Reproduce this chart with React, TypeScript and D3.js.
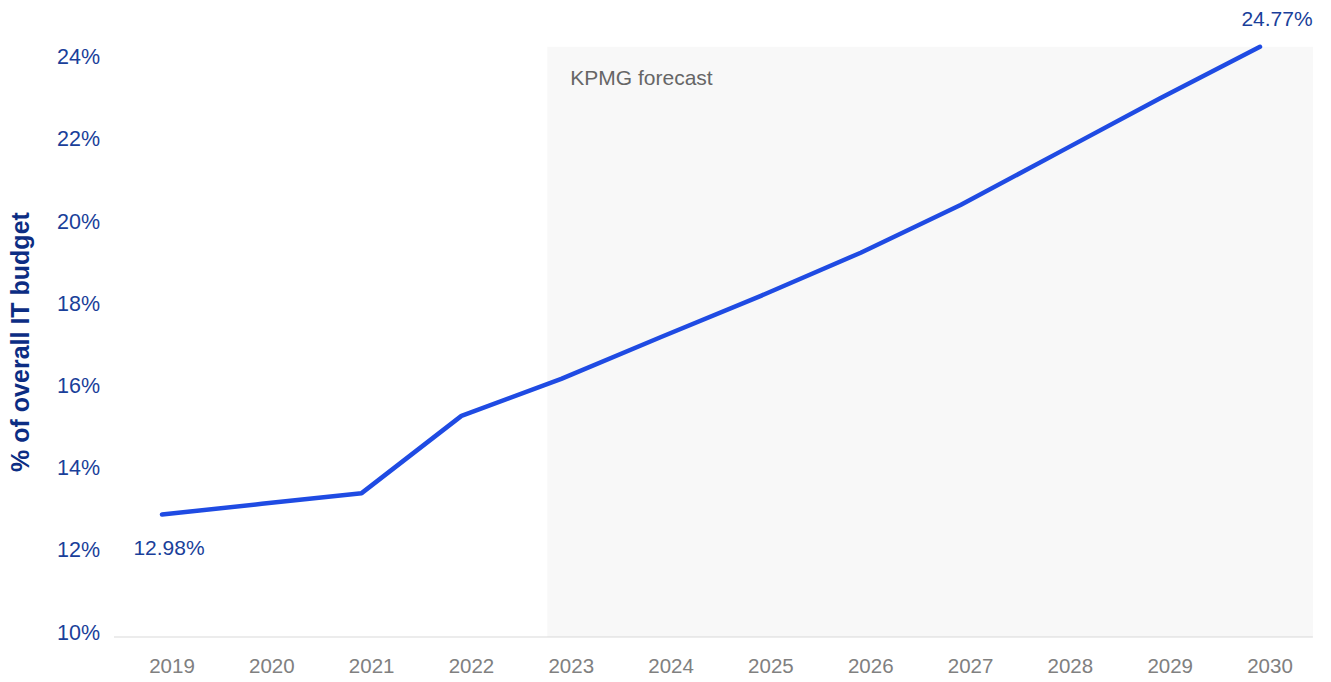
import React from "react";
import * as d3 from "d3";

const years = [2019, 2020, 2021, 2022, 2023, 2024, 2025, 2026, 2027, 2028, 2029, 2030];
const shareOfBudget = [12.98, 13.24, 13.5, 15.38, 16.28, 17.3, 18.3, 19.35, 20.51, 21.81, 23.11, 24.36];
const yTicks = [10, 12, 14, 16, 18, 20, 22, 24];
const firstLabel = "12.98%";
const lastLabel = "24.77%";
const forecastStart = 2023;
const forecastLabel = "KPMG forecast";
const yTitle = "% of overall IT budget";

const W = 1331;
const H = 682;
const FONT = "'Liberation Sans', Arial, sans-serif";

export default function App() {
  const x = d3.scalePoint<number>().domain(years).range([162, 1260]);
  const step = x.step();
  const y = d3.scaleLinear().domain([10, 24]).range([637, 61.6]);
  const line = d3
    .line<number>()
    .x((_, i) => x(years[i]) as number)
    .y((d) => y(d))
    .curve(d3.curveLinear);

  const lastIdx = years.length - 1;
  const rectX0 = (x(forecastStart) as number) - step * 0.14;
  const rectX1 = (x(years[lastIdx]) as number) + step * 0.53;
  const rectY0 = y(shareOfBudget[lastIdx]);
  const axisX0 = 114;

  return (
    <svg
      width={W}
      height={H}
      style={{ position: "absolute", left: 0, top: 0, background: "#fff" }}
      fontFamily={FONT}
    >
      <rect x={rectX0} y={rectY0} width={rectX1 - rectX0} height={y(10) - rectY0} fill="#f8f8f8" />
      <text x={rectX0 + 23} y={rectY0 + 38} fontSize={21} fill="#666666">
        {forecastLabel}
      </text>
      <line x1={axisX0} x2={rectX1} y1={y(10)} y2={y(10)} stroke="#d9d9d9" strokeWidth={1} />
      {yTicks.map((t) => (
        <text key={t} x={100} y={y(t) - 5} dy="0.35em" textAnchor="end" fontSize={21.5} fill="#1a3f9a">
          {t}%
        </text>
      ))}
      {years.map((yr) => (
        <text key={yr} x={(x(yr) as number) + 10} y={673} textAnchor="middle" fontSize={20.5} fill="#808080">
          {yr}
        </text>
      ))}
      <text
        transform={`translate(29, 342) rotate(-90)`}
        textAnchor="middle"
        fontSize={25}
        fontWeight="bold"
        fill="#0c2d83"
      >
        {yTitle}
      </text>
      <path
        d={line(shareOfBudget) || ""}
        fill="none"
        stroke="#1f4be3"
        strokeWidth={4.5}
        strokeLinecap="round"
        strokeLinejoin="round"
      />
      <text
        x={(x(years[0]) as number) + 7}
        y={y(shareOfBudget[0]) + 40}
        textAnchor="middle"
        fontSize={21}
        fill="#1a3f9a"
      >
        {firstLabel}
      </text>
      <text
        x={(x(years[lastIdx]) as number) + 17}
        y={y(shareOfBudget[lastIdx]) - 21}
        textAnchor="middle"
        fontSize={21}
        fill="#1a3f9a"
      >
        {lastLabel}
      </text>
    </svg>
  );
}
